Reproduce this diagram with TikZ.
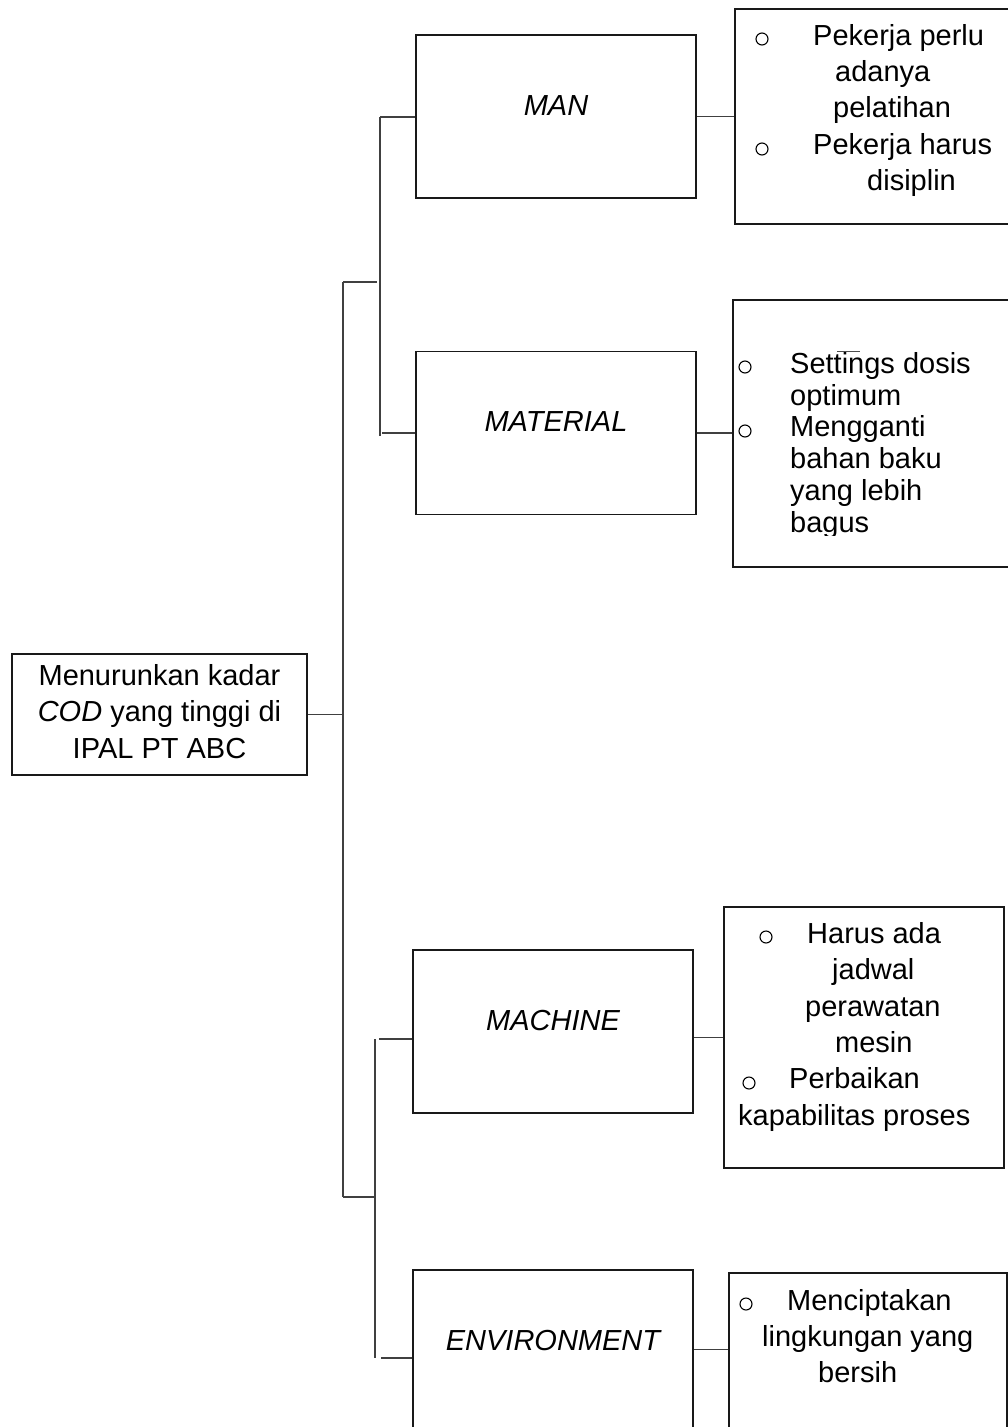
\documentclass[tikz,border=0pt]{standalone}
\usepackage{fontspec}
\setmainfont{Liberation Sans}
\usetikzlibrary{calc}
\newcommand\ind[1]{\hspace*{#1pt}}
\newcommand\fst{\rule{0pt}{25pt}}
\begin{document}
\begin{tikzpicture}[x=1pt,y=-1pt,
  box/.style={draw=black!90, line width=1.8pt, inner sep=0pt},
  cat/.style={box, minimum width=280pt, minimum height=163pt, font=\fontsize{29}{36}\selectfont\itshape, text height=21pt, text depth=24pt},
  rbox/.style={box, anchor=north west},
  txt/.style={anchor=north west, inner sep=0pt, align=left},
  conn/.style={draw=black!75, line width=1.1pt},
  bullet/.style={draw=black, line width=1.1pt}]
\clip (0,0) rectangle (1008,1427);
\fill[white] (0,0) rectangle (1008,1427);

% main box
\node[box, minimum width=295pt, minimum height=121pt, align=center, font=\fontsize{29}{36.5}\selectfont] (main) at (159.5,714.5) {Menurunkan kadar\\\textit{COD} yang tinggi di\\IPAL PT ABC\rule[-7pt]{0pt}{0pt}};

% category boxes
\node[cat] (man) at (556,116.5) {MAN};
\node[cat] (mat) at (556,433) {MATERIAL};
\node[cat] (mac) at (553,1031.5) {MACHINE};
\node[cat] (env) at (553,1351.5) {ENVIRONMENT};

% right boxes
\node[rbox, minimum width=290pt, minimum height=215pt] (manr) at (734,8) {};
\node[rbox, minimum width=290pt, minimum height=267pt] (matr) at (732,299) {};
\node[rbox, minimum width=280pt, minimum height=261pt] (macr) at (723,906) {};
\node[rbox, minimum width=278pt, minimum height=200pt] (envr) at (728,1272) {};

% right box texts
\node[txt, font=\fontsize{29}{36.3}\selectfont] (mant) at (734,20) {\fst\ind{79}Pekerja perlu\\\ind{101}adanya\\\ind{99}pelatihan\\\ind{79}Pekerja harus\\\ind{133}disiplin};
\begin{scope}
\clip (700,290) rectangle (1008,535);
\node[txt, font=\fontsize{29}{31.8}\selectfont] (matt) at (732,348) {\fst\ind{58}Settings dosis\\\ind{58}optimum\\\ind{58}Mengganti\\\ind{58}bahan baku\\\ind{58}yang lebih\\\ind{58}bagus};
\end{scope}
\draw[black!70, line width=0.8pt] (837,351) -- (860,351);
\node[txt, font=\fontsize{29}{36.4}\selectfont] (mact) at (723,918) {\fst\ind{84}Harus ada\\\ind{109}jadwal\\\ind{82}perawatan\\\ind{112}mesin\\\ind{66}Perbaikan\\\ind{15}kapabilitas proses};
\node[txt, font=\fontsize{29}{36}\selectfont] (envt) at (728,1285) {\fst\ind{59}Menciptakan\\\ind{34}lingkungan yang\\\ind{90}bersih};

% list bullets
\draw[bullet] (762,39) circle (6);
\draw[bullet] (762,149) circle (6);
\draw[bullet] (745,367) circle (6);
\draw[bullet] (745,431) circle (6);
\draw[bullet] (766,937) circle (6);
\draw[bullet] (749,1083) circle (6);
\draw[bullet] (746,1304) circle (6);

% connectors
\coordinate (tj) at (343,282);
\coordinate (bj) at (343,1197);
\coordinate (ua) at (380,117);
\coordinate (ub) at (380,436);
\coordinate (la) at (375,1039);
\coordinate (lb) at (375,1358);
\draw[conn] (tj) -- (bj);
\draw[conn] (main.east) -- (main.east -| tj);
\draw[conn] (tj) -- ([xshift=-3pt]tj -| ua);
\draw[conn] (ua) -- (ub);
\draw[conn] (ua) -- (man.west |- ua);
\draw[conn] ([xshift=2pt]ub |- mat.west) -- (mat.west);
\draw[conn] (bj) -- (bj -| la);
\draw[conn] (la) -- (lb);
\draw[conn] ([xshift=4pt]la) -- (mac.west |- la);
\draw[conn] ([xshift=6pt]lb) -- (env.west |- lb);
\draw[conn] (man.east) -- (manr.west |- man.east);
\draw[conn] (mat.east) -- (matr.west |- mat.east);
\draw[conn] (mac.east |- macr.west) -- (macr.west);
\draw[conn] ([yshift=2pt]env.east) -- ([yshift=2pt]env.east -| envr.west);
\end{tikzpicture}
\end{document}
